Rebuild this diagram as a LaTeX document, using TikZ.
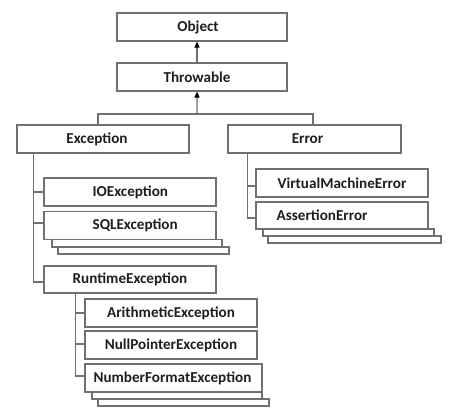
\documentclass[tikz,border=0pt]{standalone}
\usepackage{fontspec}
\setmainfont{Carlito}
\usetikzlibrary{arrows.meta}
\definecolor{linec}{HTML}{707070}
\definecolor{textc}{HTML}{1E1E1E}
\tikzset{
  box/.style={draw=linec, fill=white, line width=1.1bp, inner sep=0pt, minimum height=28bp},
  strip/.style={draw=linec, fill=white, line width=1.1bp},
  txt/.style={font=\fontsize{15.2}{18}\selectfont\bfseries, text=textc, inner sep=0pt},
  conn/.style={draw=linec, line width=1.1bp},
  arr/.style={conn, -{Triangle[length=6bp,width=5bp,fill=black,color=black]}}
}
\begin{document}
\begin{tikzpicture}[x=1bp,y=-1bp]
\useasboundingbox[fill=white] (0,0) rectangle (452,417);
% top
\node[box, minimum width=170bp] (obj) at (202,27) {};
\node[txt] at ([xshift=-4bp]obj.center) {Object};
\node[box, minimum width=170bp] (thr) at (202,77) {};
\node[txt] at ([xshift=-5bp]thr.center) {Throwable};
% level 2
\node[box, minimum width=172bp] (exc) at (103,139) {};
\node[txt] at ([xshift=-6bp]exc.center) {Exception};
\node[box, minimum width=173bp] (err) at (314.5,139) {};
\node[txt] at ([xshift=-7bp]err.center) {Error};
% exception children
\node[box, minimum width=172bp] (io) at (130,192) {};
\node[txt, anchor=west] at ([xshift=49bp]io.west) {IOException};
\draw[strip] (58,247) rectangle (229,254);
\draw[strip] (52,239.5) rectangle (222,247);
\node[box, minimum width=172bp, minimum height=28bp] (sql) at (130,225.5) {};
\node[txt, anchor=west] at ([xshift=49bp]sql.west) {SQLException};
\node[box, minimum width=172bp, minimum height=27bp] (rt) at (130,279.5) {};
\node[txt] at (rt.center) {RuntimeException};
% runtime children
\node[box, minimum width=172bp] (ar) at (171,313) {};
\node[txt] at (ar.center) {ArithmeticException};
\node[box, minimum width=172bp] (np) at (171,345) {};
\node[txt] at (np.center) {NullPointerException};
\draw[strip] (98,399) rectangle (269,406);
\draw[strip] (92,392) rectangle (262,399);
\node[box, minimum width=177bp] (nf) at (173.5,378) {};
\node[txt] at ([xshift=-1bp]nf.center) {NumberFormatException};
% error children
\node[box, minimum width=172bp] (vm) at (342,183) {};
\node[txt] at (vm.center) {VirtualMachineError};
\draw[strip] (268,236) rectangle (441,243);
\draw[strip] (263,229) rectangle (434,236);
\node[box, minimum width=172bp, minimum height=27bp] (as) at (342,215.5) {};
\node[txt, anchor=west] at ([xshift=21bp]as.west) {AssertionError};
% connectors
\coordinate (j) at (197,114);
\draw[arr] ([xshift=-5bp]thr.north) -- ([xshift=-5bp]obj.south);
\draw[arr] (j) -- ([xshift=-5bp]thr.south);
\draw[conn] ([xshift=-5bp]exc.north) |- (j) -| ([xshift=-1.5bp]err.north);
\draw[conn] ([xshift=17.5bp]exc.south west) |- ([yshift=-2.5bp]rt.west);
\draw[conn] ([xshift=17.5bp]exc.south west) |- (io.west);
\draw[conn] ([xshift=17.5bp]exc.south west) |- ([yshift=2.5bp]sql.west);
\draw[conn] ([xshift=32bp]rt.south west) |- (ar.west);
\draw[conn] ([xshift=32bp]rt.south west) |- ([yshift=1bp]np.west);
\draw[conn] ([xshift=32bp]rt.south west) |- ([yshift=2bp]nf.west);
\draw[conn] ([xshift=20bp]err.south west) |- ([yshift=-3bp]vm.west);
\draw[conn] ([xshift=20bp]err.south west) |- ([yshift=-2.5bp]as.west);
\end{tikzpicture}
\end{document}
